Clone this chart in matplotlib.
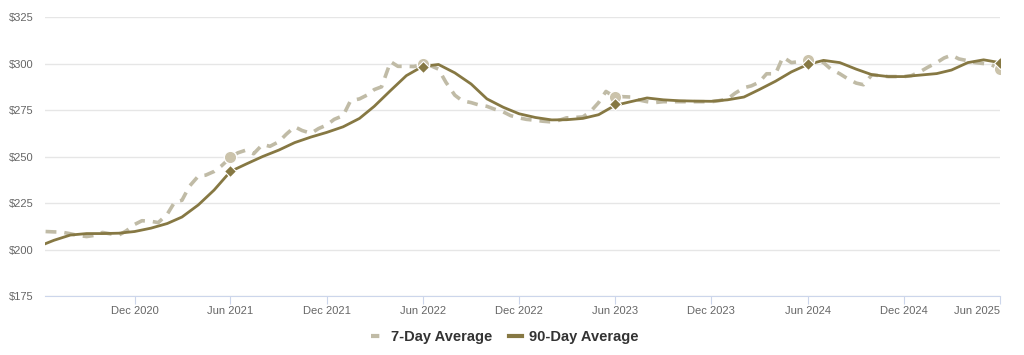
import matplotlib
matplotlib.use("Agg")
import matplotlib.pyplot as plt
from matplotlib.lines import Line2D
import pandas as pd

# 7-day average, sampled on the 1st and 15th of each month (Jun 15 2020 .. Jun 1 2025)
day7_dates = pd.to_datetime(["2020-06-15"] + [
    d.strftime("%Y-%m-%d") for m in pd.date_range("2020-07-01", "2025-05-01", freq="MS")
    for d in (m, m + pd.Timedelta(days=14))
] + ["2025-06-01"])
day7_values = [
    209.7, 209.5, 209.4, 208.5, 207.6, 207.0, 207.6, 209.2, 208.5, 207.8, 210.0,
    213.5, 215.5, 215.2, 214.5, 219.0, 225.5, 226.5, 234.0, 239.5, 240.0, 242.0,
    245.0, 249.5, 252.0, 253.5, 251.5, 256.5, 255.5, 258.0, 262.0, 266.0, 264.0,
    262.5, 265.0, 267.0, 270.0, 272.0, 280.0, 281.0, 283.0, 286.0, 287.5, 301.0,
    298.5, 298.5, 298.4, 299.5, 299.0, 297.0, 290.0, 283.0, 280.0, 279.0, 277.8,
    277.0, 275.5, 274.0, 272.0, 270.8, 270.0, 269.5, 269.0, 268.6, 269.5, 270.8,
    271.0, 271.3, 274.0, 279.0, 285.0, 282.0, 282.2, 282.0, 280.5, 279.5, 279.0,
    279.5, 279.5, 279.5, 279.5, 279.5, 279.5, 279.5, 280.0, 281.0, 284.0, 287.0,
    288.0, 290.0, 294.5, 294.5, 303.5, 300.5, 301.0, 302.5, 302.0, 300.5, 297.0,
    294.5, 292.0, 289.5, 288.6, 294.0, 293.5, 293.0, 293.0, 293.0, 293.5, 295.7,
    298.0, 300.5, 303.0, 304.5, 302.5, 301.5, 300.5, 300.0, 299.5, 297.0,
]

# 90-day average, monthly
day90_dates = pd.to_datetime(["2020-06-15"]).append(pd.date_range("2020-07-01", "2025-06-01", freq="MS"))
day90_values = [
    203.2, 205.0, 207.8, 208.6, 208.6, 208.8, 209.7, 211.5, 214.0, 217.5, 224.0,
    232.0, 242.0, 246.0, 250.0, 253.5, 257.5, 260.5, 263.0, 266.0, 270.5, 277.0,
    285.5, 293.5, 298.5, 299.5, 295.0, 289.0, 281.0, 276.5, 273.0, 271.0, 269.7,
    269.8, 270.5, 272.5, 277.5, 279.5, 281.5, 280.5, 280.0, 279.8, 279.7, 280.5,
    282.0, 286.0, 290.5, 295.5, 299.5, 301.7, 300.5, 297.0, 294.0, 293.0, 293.0,
    293.8, 294.6, 296.5, 300.5, 302.0, 300.5,
]

# yearly highlighted points
mark_dates = pd.to_datetime(["2021-06-01", "2022-06-01", "2023-06-01", "2024-06-01", "2025-06-01"])
mark7_values = [250.0, 299.5, 282.0, 302.0, 297.0]
mark90_values = [242.0, 298.0, 278.0, 299.5, 300.5]

tick_dates = pd.to_datetime(["2020-12-01", "2021-06-01", "2021-12-01", "2022-06-01", "2022-12-01",
                             "2023-06-01", "2023-12-01", "2024-06-01", "2024-12-01", "2025-06-01"])
tick_labels = ["Dec 2020", "Jun 2021", "Dec 2021", "Jun 2022", "Dec 2022",
               "Jun 2023", "Dec 2023", "Jun 2024", "Dec 2024", "Jun 2025"]
y_ticks = [175, 200, 225, 250, 275, 300, 325]

c7 = "#c0bba6"
c90 = "#867843"
cdot = "#cbc3ab"

plt.rcParams["font.family"] = ["Liberation Sans", "DejaVu Sans"]

fig = plt.figure(figsize=(10.24, 3.55), dpi=100)
ax = fig.add_axes([0.044, 0.166, 0.933, 0.786])

ax.plot(day7_dates, day7_values, color=c7, lw=2.6, linestyle=(0, (3.0, 2.2)), zorder=2)
ax.plot(day90_dates, day90_values, color=c90, lw=2.0, zorder=3)
ax.plot(mark_dates, mark7_values, linestyle="none", marker="o", ms=9,
        mfc=cdot, mec="white", mew=1.0, zorder=4)
ax.plot(mark_dates, mark90_values, linestyle="none", marker="D", ms=6.5,
        mfc=c90, mec="white", mew=0.8, zorder=5)

ax.set_ylim(175, 325)
ax.set_yticks(y_ticks)
ax.set_yticklabels([f"${v}" for v in y_ticks])
ax.set_xlim(pd.Timestamp("2020-06-14"), pd.Timestamp("2025-06-02"))
ax.set_xticks(tick_dates)
ax.set_xticklabels(tick_labels)
ax.get_xticklabels()[-1].set_horizontalalignment("right")

ax.grid(axis="y", color="#e6e6e6", lw=1.0)
ax.set_axisbelow(True)
for s in ["top", "right", "left"]:
    ax.spines[s].set_visible(False)
ax.spines["bottom"].set_color("#ccd6eb")
ax.tick_params(axis="y", length=0, pad=8.5, labelsize=8, labelcolor="#666666")
ax.tick_params(axis="x", length=6, color="#ccd6eb", pad=1.5, labelsize=8, labelcolor="#666666")

handles = [Line2D([], [], color=c7, lw=3, linestyle=(0, (2, 2))),
           Line2D([], [], color=c90, lw=3)]
fig.legend(handles, ["7-Day Average", "90-Day Average"], loc="lower center",
           bbox_to_anchor=(0.493, -0.005), ncol=2, frameon=False, handlelength=0.9,
           handletextpad=0.5, columnspacing=1.1,
           prop={"weight": "bold", "size": 10.5}, labelcolor="#333333")

fig.savefig("out.png", dpi=100, facecolor="white")
